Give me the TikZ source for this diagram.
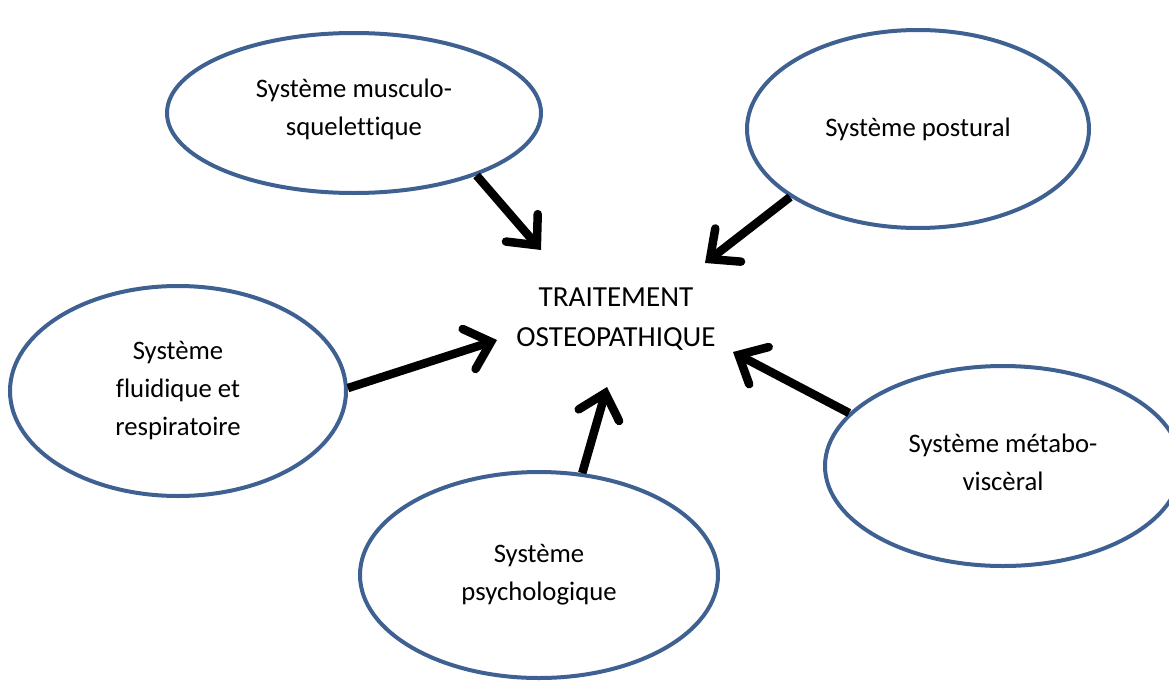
\documentclass[tikz,border=0pt]{standalone}
\usepackage{fontspec}
\setmainfont{Carlito}[Ligatures=NoCommon]
\usetikzlibrary{shapes.geometric,arrows.meta}
\definecolor{ringblue}{RGB}{62,97,145}
\newcommand{\liftlines}[2]{\raisebox{#1}[0pt][0pt]{\begin{tabular}{@{}c@{}}#2\end{tabular}}}
\tikzset{
  sys/.style={ellipse, draw=ringblue, line width=4pt, inner sep=0pt, align=center,
    font=\fontsize{26.7}{38}\selectfont},
  flow/.style={line width=8.5pt, line cap=butt,
    -{Straight Barb[length=23pt, width=42pt, line cap=round, line join=miter]}}
}
\begin{document}
\begin{tikzpicture}[x=1pt,y=-1pt]
\useasboundingbox (0,0) rectangle (1169,680);
\node[sys, minimum width=374pt, minimum height=160pt] (e1) at (354,113) {\liftlines{-2pt}{Système musculo-\\squelettique}};
\node[sys, minimum width=342pt, minimum height=198pt] (e2) at (918,129) {Système postural};
\node[sys, minimum width=336pt, minimum height=210pt] (e3) at (178,391) {Système\\fluidique et\\respiratoire};
\node[sys, minimum width=358pt, minimum height=206pt] (e4) at (539,575) {Système\\psychologique};
\node[sys, minimum width=356pt, minimum height=200pt] (e5) at (1003,466) {\liftlines{-4.5pt}{Système métabo-\\viscèral}};
\node[align=center, inner sep=0pt, font=\fontsize{29.1}{40.5}\selectfont] (c) at (616,319) {TRAITEMENT\\OSTEOPATHIQUE};
\coordinate (t1) at (541,250);
\coordinate (t2) at (705,263);
\coordinate (t3) at (497,340);
\coordinate (t4) at (607,387);
\coordinate (t5) at (733,352);
\draw[flow] (e1.-27.3) -- (t1);
\draw[flow] (e2.-152.7) -- (t2);
\draw[flow] (e3.1.4) -- (t3);
\draw[flow] (e4.67.3) -- (t4);
\draw[flow] (e5.161) -- (t5);
\end{tikzpicture}
\end{document}
